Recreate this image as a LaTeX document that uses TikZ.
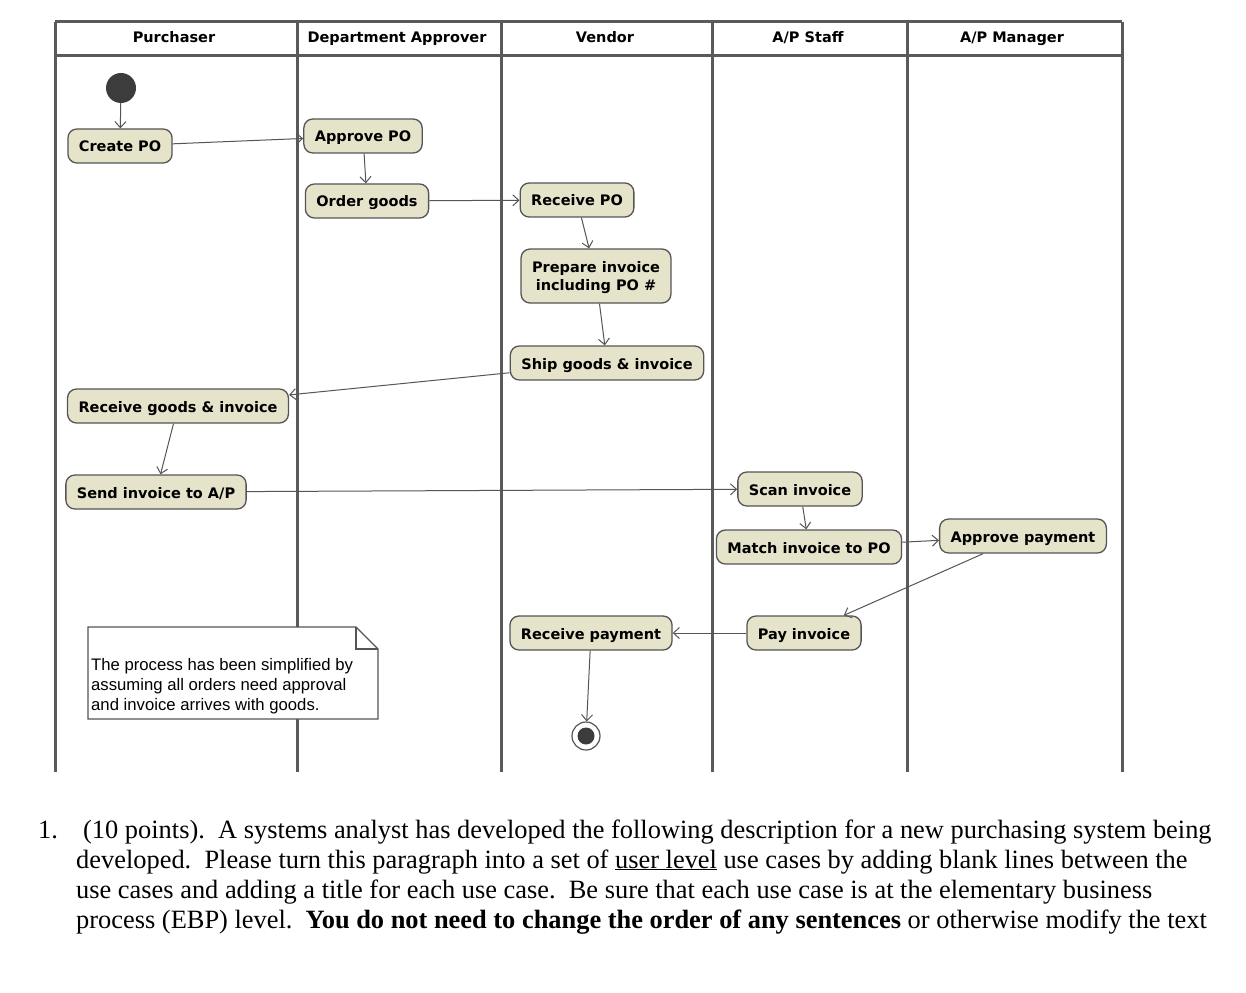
\documentclass[tikz,border=0pt]{standalone}
\usepackage{fontspec}
\setmainfont{Liberation Serif}
\newfontfamily\diagfont{DejaVu Sans}
\newfontfamily\notefont{Liberation Sans}
\usetikzlibrary{arrows.meta}
\definecolor{lanegray}{HTML}{5A5A5A}
\definecolor{linegray}{HTML}{555555}
\definecolor{actfill}{HTML}{E6E3CB}
\definecolor{initgray}{HTML}{3C3C3C}
\tikzset{
  lane/.style={draw=lanegray, line width=3pt},
  lanehead/.style={anchor=base, font=\diagfont\bfseries\fontsize{14.5}{17}\selectfont, inner sep=0pt},
  act/.style={draw=linegray, line width=1.3pt, fill=actfill, rounded corners=9pt,
    minimum height=34pt, inner xsep=11pt, inner ysep=3pt, align=center,
    text height=13pt, text depth=1pt,
    font=\diagfont\bfseries\fontsize{14.5}{18}\selectfont},
  flow/.style={draw=linegray, line width=1pt, -{Straight Barb[length=6pt,width=11pt]}},
  qtext/.style={anchor=base west, inner sep=0pt, font=\fontsize{26.4}{30}\selectfont},
}
\begin{document}
\begin{tikzpicture}[x=1pt,y=-1pt]
\useasboundingbox[fill=white] (0,0) rectangle (1246,992);
% swimlanes
\draw[lane] (55,22) -- (1122,22);
\draw[lane] (55,56) -- (1122,56);
\foreach \x in {55,297,501,712,907,1122} \draw[lane] (\x,22) -- (\x,772);
\node[lanehead] (h1) at (174,43) {Purchaser};
\node[lanehead] (h2) at (397,43) {Department Approver};
\node[lanehead] (h3) at (605,43) {Vendor};
\node[lanehead] (h4) at (808,43) {A/P Staff};
\node[lanehead] (h5) at (1012,43) {A/P Manager};
% nodes
\node[circle, fill=initgray, minimum size=30pt, inner sep=0pt] (init) at (121,88) {};
\node[act] (cpo) at (120,146) {Create PO};
\node[act] (apo) at (363,136) {Approve PO};
\node[act] (og) at (367,201) {Order goods};
\node[act] (rpo) at (577,200) {Receive PO};
\node[act, minimum height=54pt, text height=29pt] (prep) at (596,276) {Prepare invoice\\including PO \#};
\node[act] (ship) at (607,363) {Ship goods \& invoice};
\node[act] (rgi) at (178,406) {Receive goods \& invoice};
\node[act] (sia) at (156,492) {Send invoice to A/P};
\node[act] (scan) at (800,489) {Scan invoice};
\node[act] (match) at (809,547) {Match invoice to PO};
\node[act] (appay) at (1023,536) {Approve payment};
\node[act] (pay) at (804,633) {Pay invoice};
\node[act] (rpay) at (591,633) {Receive payment};
\node[circle, draw=linegray, line width=1.2pt, fill=white, minimum size=28pt, inner sep=0pt] (fin) at (586,736) {};
\fill[initgray] (fin.center) circle (8.5);
% flows
\draw[flow] (init) -- (cpo);
\draw[flow] (cpo) -- (apo);
\draw[flow] (apo) -- (og);
\draw[flow] (og) -- (rpo);
\draw[flow] (rpo) -- (prep);
\draw[flow] (prep) -- (ship);
\draw[flow] (ship) -- (rgi);
\draw[flow] (rgi) -- (sia);
\draw[flow] (sia) -- (scan);
\draw[flow] (scan) -- (match);
\draw[flow] (match) -- (appay);
\draw[flow] (appay) -- (pay);
\draw[flow] (pay) -- (rpay);
\draw[flow] (rpay) -- (fin);
% note
\draw[linegray, line width=1.2pt, fill=white] (88,627) -- (356,627) -- (378,649) -- (378,719) -- (88,719) -- cycle;
\draw[linegray, line width=1.2pt] (356,627) -- (356,649) -- (378,649);
\node[anchor=north west, inner sep=0pt, align=left, font=\notefont\fontsize{16.7}{20}\selectfont] (note) at (91,658)
  {The process has been simplified by\\assuming all orders need approval\\and invoice arrives with goods.};
% question text
\node[qtext] (qn) at (38,838) {1.};
\node[qtext] (q1) at (83,838) {(10 points).\ \ A systems analyst has developed the following description for a new purchasing system being};
\node[qtext] (q2) at (76,868) {developed.\ \ Please turn this paragraph into a set of \underline{user level} use cases by adding blank lines between the};
\node[qtext] (q3) at (76,898) {use cases and adding a title for each use case.\ \ Be sure that each use case is at the elementary business};
\node[qtext] (q4) at (76,928) {process (EBP) level.\ \ \textbf{You do not need to change the order of any sentences} or otherwise modify the text};
\end{tikzpicture}
\end{document}
